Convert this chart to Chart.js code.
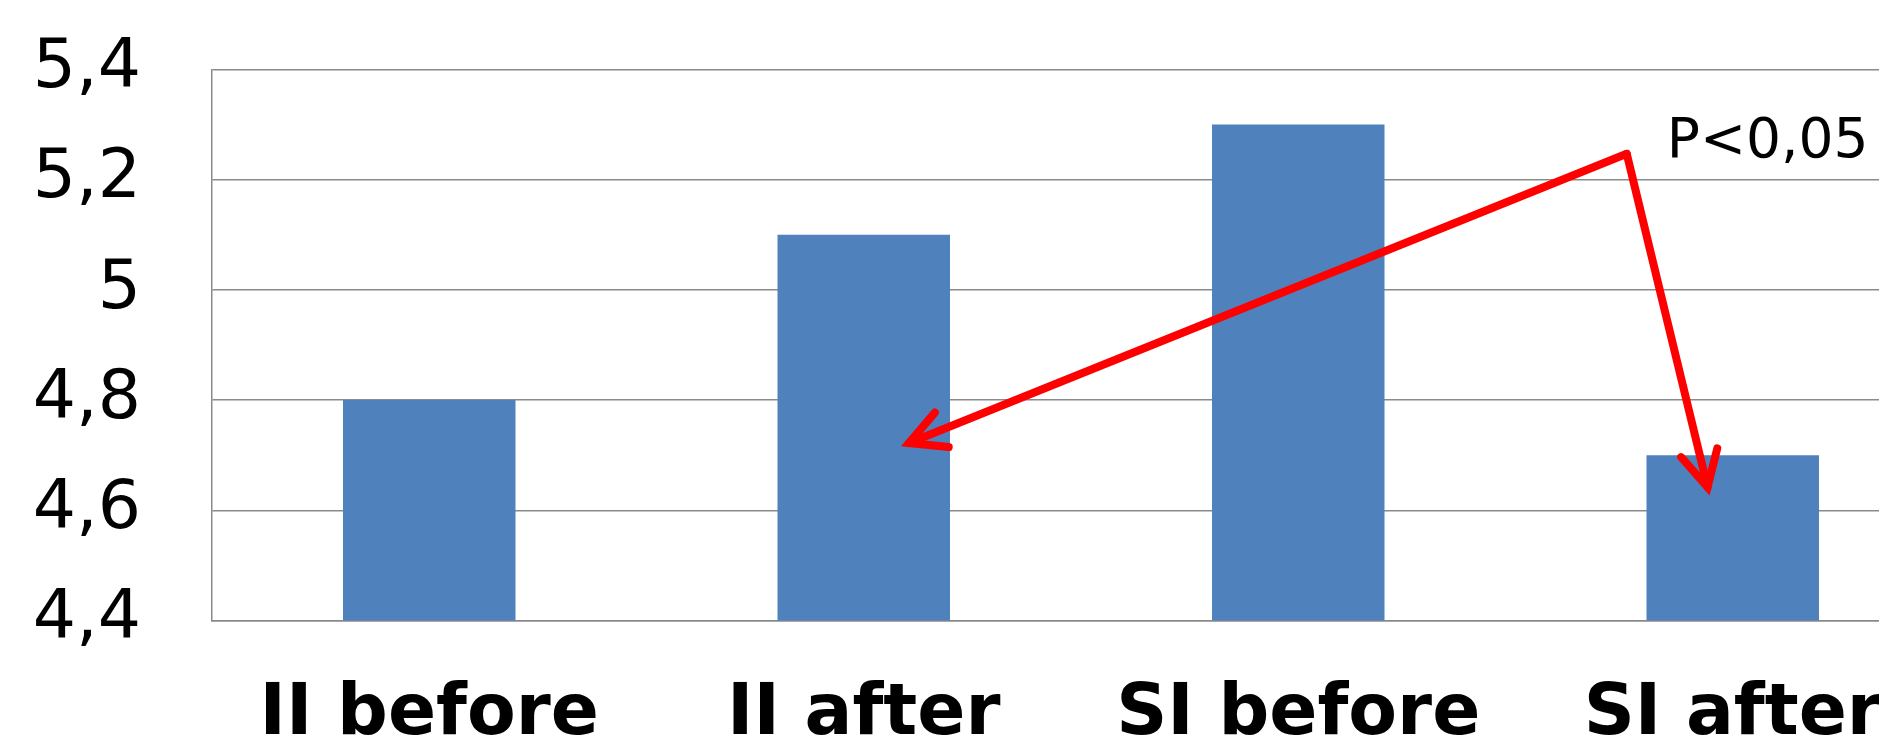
<!DOCTYPE html>
<html>
<head>
<meta charset="utf-8">
<script src="https://cdn.jsdelivr.net/npm/chart.js@4.4.1/dist/chart.umd.min.js"></script>
<style>
  html, body { margin: 0; padding: 0; background: #ffffff; overflow: hidden; width: 1879px; height: 740px; }
  canvas { display: block; }
</style>
</head>
<body>
<canvas id="c" width="1950" height="740"></canvas>
<script>
// ---- data ----
const categories = ['II before', 'II after', 'SI before', 'SI after'];
const values = [4.8, 5.1, 5.3, 4.7];
const yTickValues = [4.4, 4.6, 4.8, 5.0, 5.2, 5.4];
const yTickLabels = ['4,4', '4,6', '4,8', '5', '5,2', '5,4'];
const annotationText = 'P<0,05';
// annotation anchor points in data units [category index, value]
const arrowApex = [2.756, 5.247];
const arrowTips = [[1.104, 4.722], [2.942, 4.642]];

const arrowPlugin = {
  id: 'arrows',
  afterDatasetsDraw(chart) {
    const ctx = chart.ctx;
    const xs = chart.scales.x, ys = chart.scales.y;
    const ax = xs.getPixelForValue(arrowApex[0]);
    const ay = ys.getPixelForValue(arrowApex[1]);
    ctx.save();
    ctx.strokeStyle = '#ff0000';
    ctx.lineWidth = 8;
    ctx.lineCap = 'round';
    ctx.lineJoin = 'miter';
    arrowTips.forEach(t => {
      const tx = xs.getPixelForValue(t[0]);
      const ty = ys.getPixelForValue(t[1]);
      ctx.beginPath();
      ctx.moveTo(ax, ay);
      ctx.lineTo(tx, ty);
      ctx.stroke();
      const ang = Math.atan2(ty - ay, tx - ax);
      const len = 40, spread = Math.PI / 6.5;
      ctx.beginPath();
      ctx.moveTo(tx - len * Math.cos(ang - spread), ty - len * Math.sin(ang - spread));
      ctx.lineTo(tx, ty);
      ctx.lineTo(tx - len * Math.cos(ang + spread), ty - len * Math.sin(ang + spread));
      ctx.stroke();
    });
    ctx.fillStyle = '#000000';
    ctx.font = '55px "DejaVu Sans"';
    ctx.textAlign = 'left';
    ctx.textBaseline = 'alphabetic';
    ctx.fillText(annotationText, ax + 40, ay + 3);
    ctx.restore();
  }
};

new Chart(document.getElementById('c'), {
  type: 'bar',
  data: {
    labels: categories,
    datasets: [{
      data: values,
      backgroundColor: '#4F81BD',
      borderWidth: 0,
      categoryPercentage: 1.0,
      barPercentage: 0.397
    }]
  },
  options: {
    responsive: false,
    animation: false,
    devicePixelRatio: 1,
    layout: { padding: { top: 69.5, left: 0, right: 0, bottom: 0 } },
    plugins: { legend: { display: false }, tooltip: { enabled: false } },
    scales: {
      x: {
        grid: { display: false, drawTicks: false },
        border: { display: true, color: '#8a8a8a', width: 1.5 },
        ticks: {
          color: '#000000',
          font: { family: '"DejaVu Sans"', size: 71, weight: 'bold' },
          padding: 52,
          maxRotation: 0,
          autoSkip: false
        },
        afterFit(s) { s.height = 119.5; s.paddingLeft = 0; s.paddingRight = 0; }
      },
      y: {
        min: 4.4,
        max: 5.4,
        afterBuildTicks(s) { s.ticks = yTickValues.map(v => ({ value: v })); },
        grid: { color: '#8a8a8a', lineWidth: 1.5, drawTicks: false },
        border: { display: true, color: '#8a8a8a', width: 1.5 },
        ticks: {
          color: '#000000',
          font: { family: '"DejaVu Sans"', size: 68 },
          padding: 71,
          callback(value, index) { return yTickLabels[index]; }
        },
        afterFit(s) { s.width = 212; s.paddingTop = 0; s.paddingBottom = 0; }
      }
    }
  },
  plugins: [arrowPlugin]
});
</script>
</body>
</html>
